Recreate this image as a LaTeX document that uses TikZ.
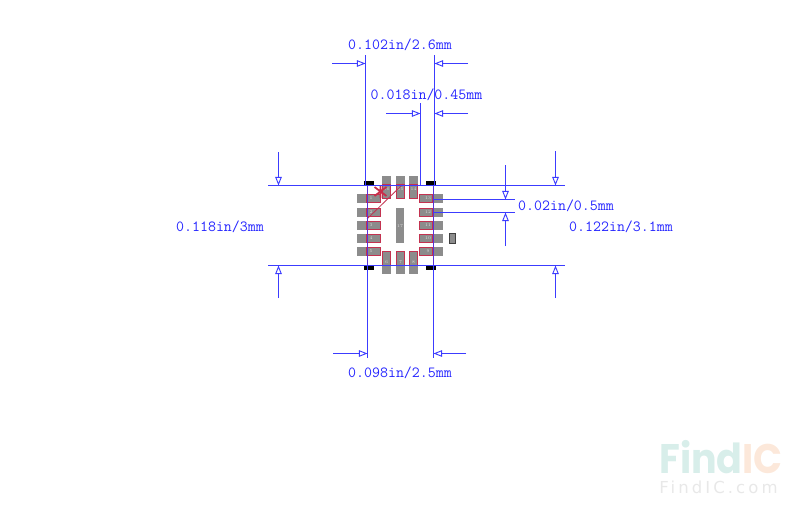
\documentclass[tikz,border=0pt]{standalone}
\usepackage{fontspec}
\usetikzlibrary{arrows.meta}
\newfontfamily\markfont{Poppins}
\newfontfamily\sitefont[LetterSpace=18.5]{DejaVu Sans}
\definecolor{dimblue}{RGB}{60,60,255}
\definecolor{padgray}{RGB}{140,140,140}
\definecolor{padred}{RGB}{195,50,80}
\definecolor{outline}{RGB}{90,50,215}
\tikzset{
  dimline/.style={draw=dimblue,line width=0.7pt},
  dimarrow/.style={dimline,-{Triangle[open,length=6.5pt,width=5pt]}},
  dimtext/.style={text=blue!85!white,font=\fontsize{11.6}{13}\ttfamily,inner sep=0pt},
  pad/.style={fill=padgray},
  padedge/.style={draw=padred,line width=0.85pt},
  pinno/.style={text=white!70!padgray,font=\fontsize{3.2}{4}\selectfont,inner sep=0pt},
  corner/.style={fill=black}
}
\begin{document}
\begin{tikzpicture}[x=0.75pt,y=-0.75pt]
\useasboundingbox (0,0) rectangle (800,514);
% pads, left and right rows
\foreach \y/\n/\m in {194/1/13,208/2/12,221/3/11,234/4/10,247/5/9} {
  \fill[pad] (357,\y) rectangle (381,\y+9);
  \draw[padedge] (366.5,\y+.5) rectangle (380.5,\y+8.5);
  \node[pinno] (pinl\n) at (371,\y+4.5) {\n};
  \fill[pad] (419,\y) rectangle (443,\y+9);
  \draw[padedge] (419.5,\y+.5) rectangle (432.5,\y+8.5);
  \node[pinno] (pinr\m) at (428,\y+4.5) {\m};
}
% pads, top and bottom rows
\foreach \x/\n/\m in {382/6/16,396/7/15,409/8/14} {
  \fill[pad] (\x,176) rectangle (\x+9,199);
  \draw[padedge] (\x+.5,184.5) rectangle (\x+8.5,198.5);
  \node[pinno] (pint\m) at (\x+4.5,189) {\m};
  \fill[pad] (\x,251) rectangle (\x+9,274);
  \draw[padedge] (\x+.5,251.5) rectangle (\x+8.5,265.5);
  \node[pinno] (pinb\n) at (\x+4.5,262) {\n};
}
\fill[pad] (396,208) rectangle (404,243);
\node[pinno] (pinc) at (400,226) {17};
\draw[fill=padgray,draw=black!75,line width=0.7pt] (449.5,233.5) rectangle (455.5,243.5);
% pin one mark
\draw[draw=padred,line width=0.6pt] (367,219) -- (403,184);
\draw[draw=padred!90!red,line width=1.3pt] (380.5,185) -- (380.5,198) (374.5,187) -- (386.5,196) (386.5,187) -- (374.5,196);
% package
\draw[draw=outline,line width=0.7pt] (367.5,185.5) rectangle (433.5,265.5);
\foreach \x in {364,426} {
  \fill[corner] (\x,181) rectangle (\x+10,185);
  \fill[corner] (\x,266) rectangle (\x+10,270);
}
% extension lines
\draw[dimline] (365.5,55) -- (365.5,185);
\draw[dimline] (434.5,55) -- (434.5,185);
\draw[dimline] (420.5,103) -- (420.5,185);
\draw[dimline] (367.5,265) -- (367.5,358);
\draw[dimline] (433.5,265) -- (433.5,358);
\draw[dimline] (268,185.5) -- (565,185.5);
\draw[dimline] (268,265.5) -- (565,265.5);
\draw[dimline] (433,199.5) -- (515,199.5);
\draw[dimline] (433,212.5) -- (515,212.5);
% arrows
\draw[dimarrow] (332,63.5) -- (365.5,63.5);
\draw[dimarrow] (468,63.5) -- (434.5,63.5);
\draw[dimarrow] (386,113.5) -- (420.5,113.5);
\draw[dimarrow] (468,113.5) -- (434.5,113.5);
\draw[dimarrow] (333,353.5) -- (367.5,353.5);
\draw[dimarrow] (466,353.5) -- (433.5,353.5);
\draw[dimarrow] (278.5,152) -- (278.5,185.5);
\draw[dimarrow] (278.5,298) -- (278.5,265.5);
\draw[dimarrow] (505.5,165) -- (505.5,199.5);
\draw[dimarrow] (505.5,246) -- (505.5,212.5);
\draw[dimarrow] (555.5,151) -- (555.5,185.5);
\draw[dimarrow] (555.5,298) -- (555.5,265.5);
% labels
\node[dimtext] (topwidth) at (400,44.5) {0.102in/2.6mm};
\node[dimtext] (padwidth) at (426.5,94.5) {0.018in/0.45mm};
\node[dimtext] (leftheight) at (220,226.5) {0.118in/3mm};
\node[dimtext] (pitch) at (566,205.5) {0.02in/0.5mm};
\node[dimtext] (rightheight) at (621,226.5) {0.122in/3.1mm};
\node[dimtext] (botwidth) at (400,372.5) {0.098in/2.5mm};
% watermark
\node[inner sep=0pt,anchor=base west,font=\fontsize{31}{33}\markfont\bfseries] (markname) at (659,473)
  {\scalebox{0.92}[1]{\textcolor[RGB]{216,238,234}{Find}\textcolor[RGB]{252,232,218}{IC}}};
\node[inner sep=0pt,anchor=base west,text=black!9,font=\fontsize{12.4}{13}\sitefont] (marksite) at (659,493.5) {FindIC.com};
\end{tikzpicture}
\end{document}
